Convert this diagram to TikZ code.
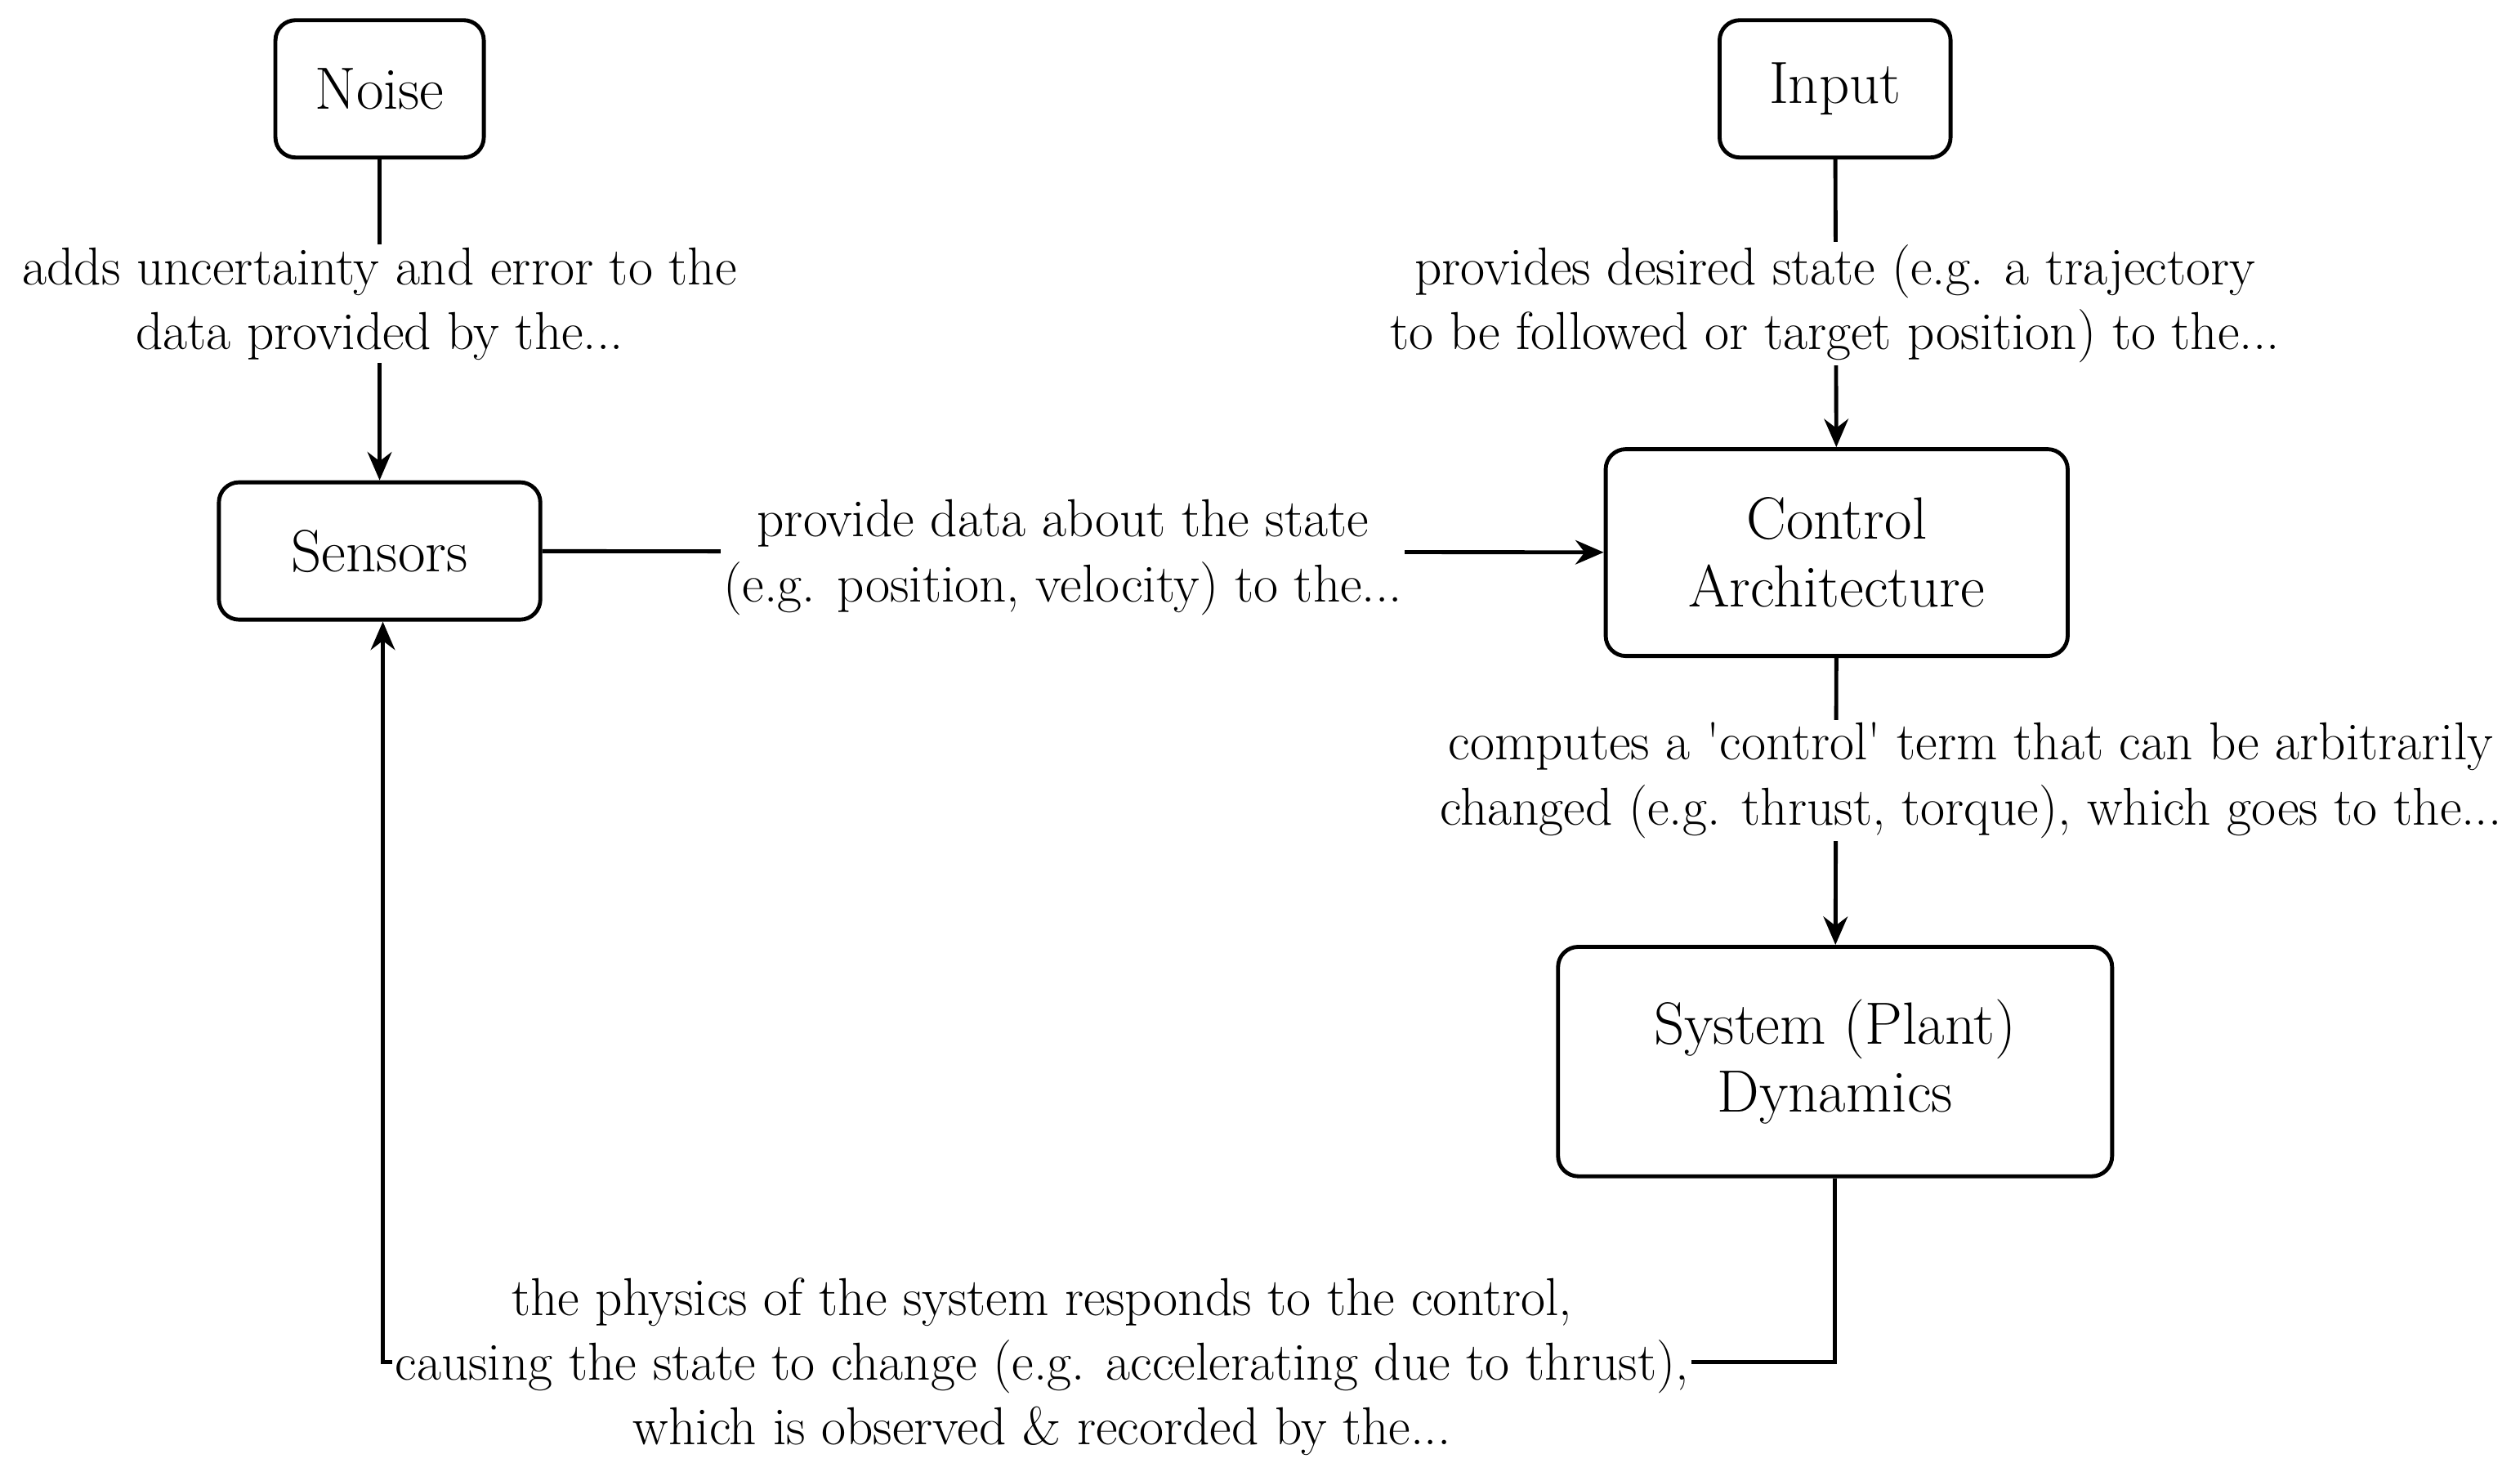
\documentclass[tikz,border=0pt]{standalone}
\usetikzlibrary{arrows.meta}
\begin{document}
\begin{tikzpicture}[x=0.02cm,y=-0.02cm,
 box/.style={draw,line width=1.4pt,rounded corners=0.25cm,align=center,inner sep=0pt,font=\fontsize{21}{24}\selectfont},
 lab/.style={fill=white,align=center,inner sep=1pt,font=\fontsize{18.8}{22.8}\selectfont},
 ln/.style={line width=1.4pt},
 arr/.style={ln,-{Stealth[length=0.35cm,width=0.3cm]}}]
\useasboundingbox (0,0) rectangle (1560,905);
\node[box,minimum width=129*0.02cm,minimum height=85*0.02cm] (noise) at (235,55) {Noise};
\node[box,minimum width=143*0.02cm,minimum height=85*0.02cm] (input) at (1136,55) {Input};
\node[box,minimum width=199*0.02cm,minimum height=85*0.02cm] (sens) at (235,341) {Sensors};
\node[box,minimum width=286*0.02cm,minimum height=128*0.02cm] (ctrl) at (1137,342) {Control\\Architecture};
\node[box,minimum width=343*0.02cm,minimum height=142*0.02cm] (sys) at (1136,657) {System (Plant)\\Dynamics};
\coordinate (c1) at (1136,843);
\coordinate (c2) at (237,843);
\draw[arr] (noise) -- (sens);
\draw[arr] (input) -- (ctrl);
\draw[arr] (sens) -- (ctrl);
\draw[arr] (ctrl) -- (sys);
\draw[arr] (sys.south) -- (c1) -- (c2) -- (sens.south -| c2);
\node[lab] (l1) at (235,188) {adds uncertainty and error to the\\data provided by the...};
\node[lab] (l2) at (1136,188) {provides desired state (e.g. a trajectory\\to be followed or target position) to the...};
\node[lab] (l3) at (658,345) {provide data about the state\\(e.g. position, velocity) to the...};
\node[lab] (l4) at (1220,483) {computes a \textquotesingle control\textquotesingle\ term that can be arbitrarily\\changed (e.g. thrust, torque), which goes to the...};
\node[lab] (l5) at (645,846) {the physics of the system responds to the control,\\causing the state to change (e.g. accelerating due to thrust),\\which is observed \& recorded by the...};
\end{tikzpicture}
\end{document}
